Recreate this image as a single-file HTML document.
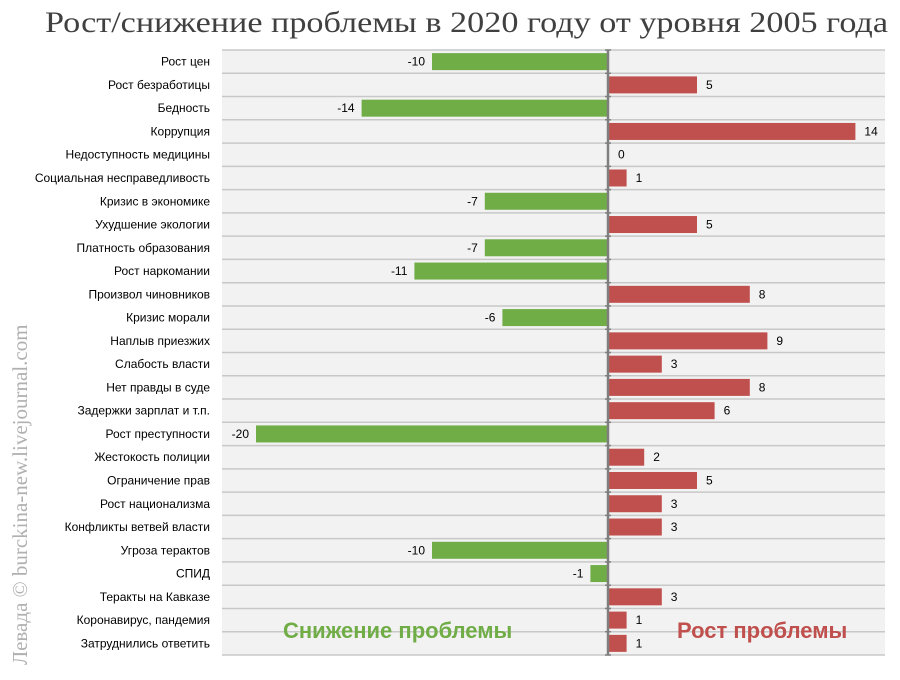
<!DOCTYPE html>
<html><head><meta charset="utf-8"><style>
body{margin:0;background:#fff;width:900px;height:675px;overflow:hidden;font-family:"Liberation Sans",sans-serif}
</style></head><body>
<svg width="900" height="675" xmlns="http://www.w3.org/2000/svg">
<text x="45" y="32" textLength="843" lengthAdjust="spacingAndGlyphs" font-family="Liberation Serif,serif" font-size="30" fill="#404040">Рост/снижение проблемы в 2020 году от уровня 2005 года</text>
<text transform="translate(27,665) rotate(-90)" font-family="Liberation Serif,serif" font-size="21" fill="#b0b0b0">Левада © burckina-new.livejournal.com</text>
<rect x="222" y="50" width="663" height="605" fill="#f2f2f2"/>
<g id="g"></g>
<text x="283" y="638" font-size="22" font-weight="bold" fill="#70ad47">Снижение проблемы</text>
<text x="677" y="638" font-size="22" font-weight="bold" fill="#c0504d">Рост проблемы</text>
</svg>
<script>
const categories=["Рост цен","Рост безработицы","Бедность","Коррупция","Недоступность медицины","Социальная несправедливость","Кризис в экономике","Ухудшение экологии","Платность образования","Рост наркомании","Произвол чиновников","Кризис морали","Наплыв приезжих","Слабость власти","Нет правды в суде","Задержки зарплат и т.п.","Рост преступности","Жестокость полиции","Ограничение прав","Рост национализма","Конфликты ветвей власти","Угроза терактов","СПИД","Теракты на Кавказе","Коронавирус, пандемия","Затруднились ответить"];
const values=[-10,5,-14,14,0,1,-7,5,-7,-11,8,-6,9,3,8,6,-20,2,5,3,3,-10,-1,3,1,1];
const ns="http://www.w3.org/2000/svg",gEl=document.getElementById('g');
const x0=608,unit=17.6,topY=50,rh=605/categories.length;
const xs=v=>x0+v*unit, ys=i=>topY+i*rh;
function mk(t,a){const e=document.createElementNS(ns,t);for(const k in a)e.setAttribute(k,a[k]);gEl.appendChild(e);return e;}
for(let i=0;i<=categories.length;i++){const l=mk('line',{x1:222,x2:885,y1:ys(i),y2:ys(i),stroke:'#c8c8c8','stroke-width':1.5});

}
categories.forEach((c,i)=>{
const v=values[i],y=ys(i)+rh/2;
const t=mk('text',{x:210,y:y+4,'text-anchor':'end','font-size':12,fill:'#000'});t.textContent=c;


const x1=Math.min(xs(v),xs(0)),w=Math.abs(xs(v)-xs(0));
const r=mk('rect',{x:v<0?x1:x1+1,y:y-8.5,width:w,height:17,fill:v<0?'#70ad47':'#c0504d'});


const lb=mk('text',{x:v<0?xs(v)-7:xs(v)+10,y:y+4,'text-anchor':v<0?'end':'start','font-size':12,fill:'#000'});lb.textContent=v;


});
const ax=mk('line',{x1:x0,x2:x0,y1:topY,y2:topY+605,stroke:'#7f7f7f','stroke-width':2.5});


for(let i=0;i<=categories.length;i++){const tk=mk('line',{x1:x0-3,x2:x0+3,y1:ys(i),y2:ys(i),stroke:'#7f7f7f','stroke-width':1.5});

}
</script>
</body></html>
